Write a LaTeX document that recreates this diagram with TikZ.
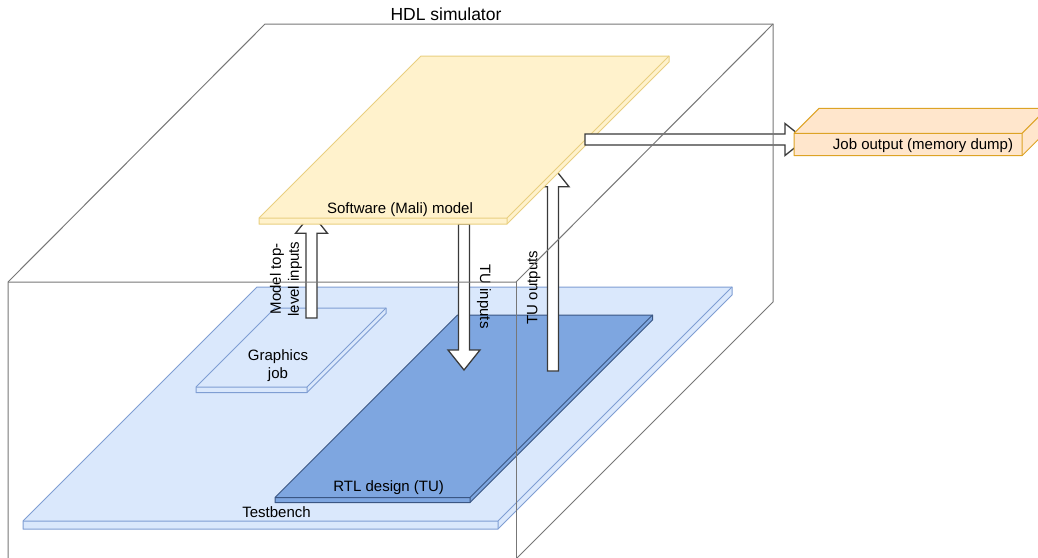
\documentclass[tikz,border=0pt]{standalone}
\usepackage{fontspec}
\setmainfont{Liberation Sans}
\usetikzlibrary{calc}
\definecolor{ylwF}{HTML}{FFF2CC}
\definecolor{ylwD}{HTML}{E9CF80}
\definecolor{tbF}{HTML}{DAE8FC}
\definecolor{tbD}{HTML}{7F9ED3}
\definecolor{rtlF}{HTML}{7EA6E0}
\definecolor{rtlD}{HTML}{3A5683}
\definecolor{orgF}{HTML}{FFE6CC}
\definecolor{orgD}{HTML}{DDA325}
\definecolor{cubeC}{HTML}{777777}
\definecolor{arrC}{HTML}{3A3A3A}
\newcommand\plate[7]{%
  \filldraw[fill=#6, draw=#7, line width=1pt, line join=round]
   (#1,#2) -- ++(#4,-#4) -- ++(#3,0) -- ++(0,#5) -- ++(-#4,#4) -- ++(-#3,0) -- cycle;
  \draw[draw=#7, line width=1pt, line join=round]
   (#1,#2) -- ++(#3,0) -- ++(#4,-#4)
   (#1+#3,#2) -- ++(0,#5);}
\newcommand\flexarrow[2]{%
  \path[flex] let \p1=($(#2)-(#1)$), \n1={atan2(\y1,\x1)}, \n2={veclen(\x1,\y1)} in
    [shift={(#1)}, rotate=\n1] (0pt,-5.5pt) -- (\n2-20pt,-5.5pt) -- (\n2-20pt,-16pt) -- (\n2,0pt)
    -- (\n2-20pt,16pt) -- (\n2-20pt,5.5pt) -- (0pt,5.5pt) -- cycle;}
\begin{document}
\begin{tikzpicture}[x=1pt,y=-1pt,
  lbl/.style={font=\fontsize{15}{18}\selectfont, inner sep=0pt, text=black},
  big/.style={font=\fontsize{17.5}{21}\selectfont, inner sep=0pt, text=black},
  flex/.style={draw=arrC, fill=white, line width=1.3pt, line join=miter},
  cubeline/.style={draw=cubeC, line width=1pt}]
\useasboundingbox (0,0) rectangle (1038,557);
\fill[white] (0,0) rectangle (1038,557);
% plates
\plate{23}{521}{475}{234}{8}{tbF}{tbD}
\plate{196}{387}{111}{79}{5.5}{tbF}{tbD}
\plate{275}{497.5}{195}{182.5}{5}{rtlF}{rtlD}
% arrow end points
\coordinate (mi-s) at (311.5,318);
\coordinate (mi-e) at (311.5,213.3);
\coordinate (ti-s) at (464,224);
\coordinate (ti-e) at (464,370);
\coordinate (to-s) at (553,371);
\coordinate (to-e) at (553,166.7);
\coordinate (jo-s) at (585,139.5);
\coordinate (jo-e) at (805,139.5);
\flexarrow{mi-s}{mi-e}
\flexarrow{ti-s}{ti-e}
\flexarrow{to-s}{to-e}
\plate{259}{218}{248}{162}{6}{ylwF}{ylwD}
\flexarrow{jo-s}{jo-e}
\plate{794}{133.3}{228}{25}{22.4}{orgF}{orgD}
% labels
\node[big, anchor=base] (hdl) at (446,20.7) {HDL simulator};
\node[lbl, anchor=base] (swl) at (400,213.3) {Software (Mali) model};
\node[lbl, anchor=base] (jol) at (923,149) {Job output (memory dump)};
\node[lbl, anchor=base] (tbl) at (276.5,517.3) {Testbench};
\node[lbl, anchor=base] (rtll) at (388.7,491.7) {RTL design (TU)};
\node[lbl, align=center] (gjl) at (278,366) {Graphics\\job};
\node[lbl, rotate=-90, anchor=base] (til) at (480,296.5) {TU inputs};
\node[lbl, rotate=90, anchor=base] (tol) at (537.3,287.5) {TU outputs};
\node[lbl, rotate=90, align=center] (mil) at (286,279) {Model top-\\level inputs};
% simulator cube outline
\draw[cubeline, line join=miter] (8,560) -- (8,282) -- (265,24) -- (773,24) -- (773,302) -- (515,560);
\draw[cubeline] (8,282) -- (516,282) -- (773,24);
\draw[cubeline] (516,282) -- (516,560);
\end{tikzpicture}
\end{document}
